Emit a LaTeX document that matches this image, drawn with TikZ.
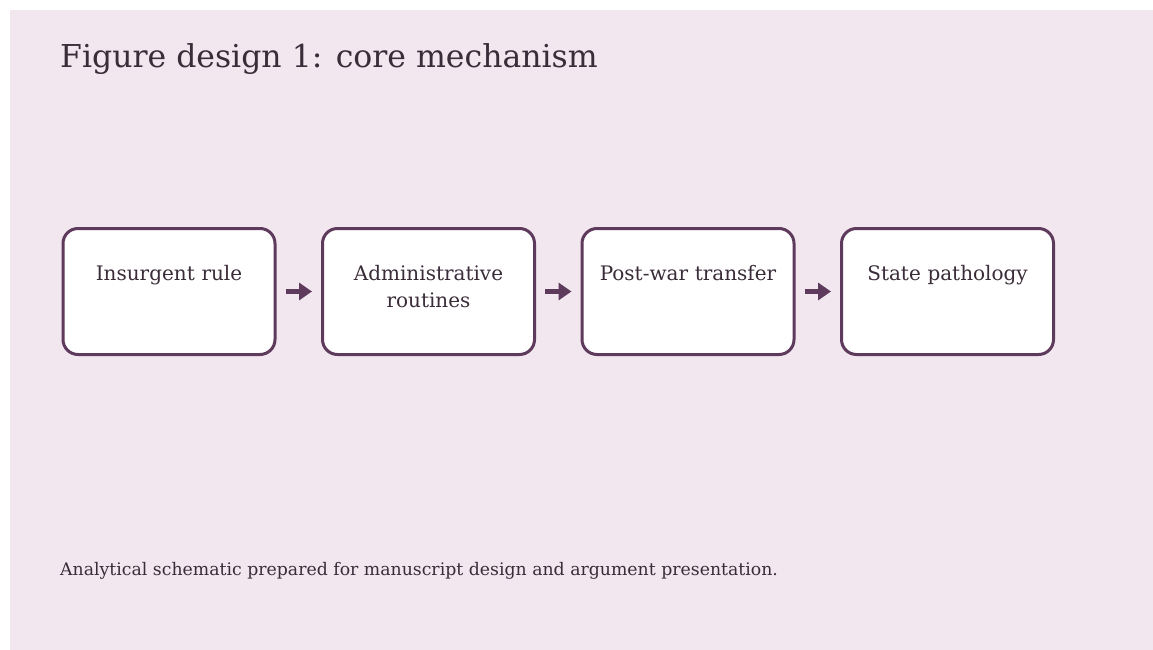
\documentclass[tikz,border=0pt]{standalone}
\usepackage{fontspec}
\setmainfont{DejaVu Serif}
\usetikzlibrary{arrows.meta, positioning}

\definecolor{bgpink}{HTML}{F2E7EF}
\definecolor{plum}{HTML}{5E3A5C}
\definecolor{inkdark}{HTML}{3A2C38}

\begin{document}
\begin{tikzpicture}[x=1pt,y=-1pt,node distance=259.5pt,on grid,>={Triangle[length=13pt,width=17pt]},
	stage/.style={draw=plum, line width=3pt, fill=white, rounded corners=15pt, minimum width=212pt, minimum height=126pt, inner sep=0pt},
	stagetext/.style={text=inkdark, text width=200pt, align=center, anchor=base, inner sep=0pt, font=\fontsize{20}{26.5}\selectfont},
	flow/.style={->, draw=plum, line width=4.5pt, shorten <=9pt, shorten >=9pt}]
	
	\useasboundingbox (0,0) rectangle (1153,650);
	\fill [bgpink] (10,10) rectangle (1153,650);
	
	\node (title) [anchor=base west, inner sep=0pt, text=inkdark, font=\fontsize{31.5}{36}\selectfont] at (60,68) {Figure design 1: core mechanism};
	
	\node (insurgent) [stage] at (169,291.5) {};
	\node (admin) [stage, right=of insurgent] {};
	\node (transfer) [stage, right=of admin] {};
	\node (pathology) [stage, right=of transfer] {};
	
	\node (insurgentlbl) [stagetext] at ([yshift=-53.5pt]insurgent.north) {Insurgent rule};
	\node (adminlbl) [stagetext] at ([yshift=-53.5pt]admin.north) {Administrative\\routines};
	\node (transferlbl) [stagetext] at ([yshift=-53.5pt]transfer.north) {Post-war transfer};
	\node (pathologylbl) [stagetext] at ([yshift=-53.5pt]pathology.north) {State pathology};
	
	\draw [flow] (insurgent) -- (admin);
	\draw [flow] (admin) -- (transfer);
	\draw [flow] (transfer) -- (pathology);
	
	\node (note) [anchor=base west, inner sep=0pt, text=inkdark, font=\fontsize{17.3}{20}\selectfont] at (60,575) {Analytical schematic prepared for manuscript design and argument presentation.};
\end{tikzpicture}
\end{document}
